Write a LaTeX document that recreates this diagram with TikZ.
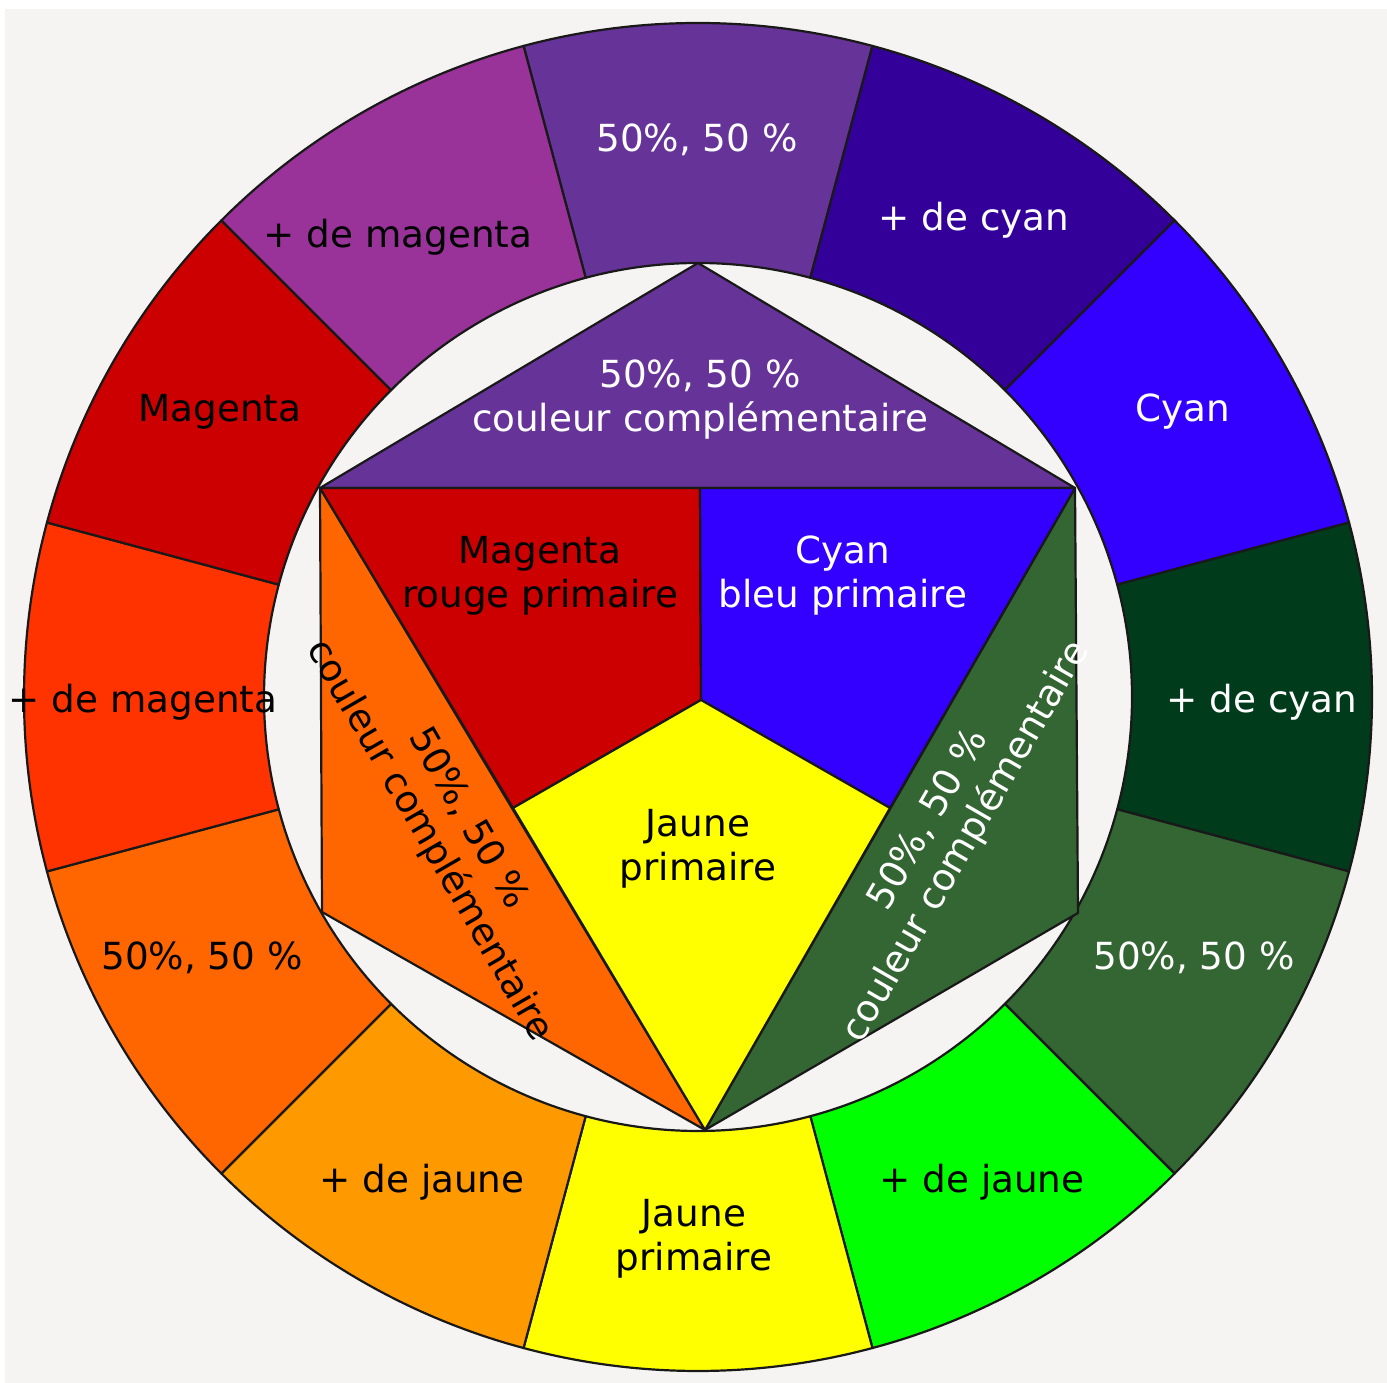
\documentclass[tikz,border=0pt]{standalone}
\usepackage{fontspec}
\setmainfont{DejaVu Sans}
\definecolor{bgc}{HTML}{F5F4F2}
\definecolor{cPurple}{HTML}{663399}
\definecolor{cIndigo}{HTML}{330099}
\definecolor{cBlue}{HTML}{3300FF}
\definecolor{cDarkGreen}{HTML}{003C1B}
\definecolor{cGreen}{HTML}{336633}
\definecolor{cLime}{HTML}{00FF00}
\definecolor{cYellow}{HTML}{FFFF00}
\definecolor{cAmber}{HTML}{FF9900}
\definecolor{cOrange}{HTML}{FF6600}
\definecolor{cRedOrange}{HTML}{FF3300}
\definecolor{cRed}{HTML}{CC0000}
\definecolor{cViolet}{HTML}{993399}
\begin{document}
\begin{tikzpicture}[x=1pt,y=1pt,
  seg/.style={draw=black!90, line width=2.2pt, line join=round},
  lbl/.style={font=\fontsize{37.3}{44}\selectfont, align=center, inner sep=0pt},
  wl/.style={lbl, text=white},
  bl/.style={lbl, text=black}]
\useasboundingbox (0,0) rectangle (1387,1383);
\fill[white] (0,0) rectangle (1387,1383);
\fill[bgc] (5,0) rectangle (1387,1374);
\begin{scope}[shift={(698,686)}]
  % outer ring
  \foreach \a/\c in {90/cPurple,60/cIndigo,30/cBlue,0/cDarkGreen,-30/cGreen,-60/cLime,
                     -90/cYellow,-120/cAmber,-150/cOrange,180/cRedOrange,150/cRed,120/cViolet}
  {
    \pgfmathsetmacro{\s}{\a-15}
    \pgfmathsetmacro{\e}{\a+15}
    \filldraw[seg, fill=\c] (\s:434) arc[start angle=\s, end angle=\e, radius=434]
      -- (\e:674) arc[start angle=\e, end angle=\s, radius=674] -- cycle;
  }
  % inner figure points
  \coordinate (T)  at (0,434);
  \coordinate (UL) at (-378,209);
  \coordinate (UR) at (377,209);
  \coordinate (LL) at (-376,-215);
  \coordinate (LR) at (380,-216);
  \coordinate (B)  at (7,-433);
  \coordinate (M)  at (3,-3);
  \coordinate (MT) at (2,209);
  \coordinate (ML) at (-185,-111);
  \coordinate (MR) at (192,-111);
  \filldraw[seg, fill=cPurple] (UL) -- (T) -- (UR) -- cycle;
  \filldraw[seg, fill=cOrange] (UL) -- (B) -- (LL) -- cycle;
  \filldraw[seg, fill=cGreen] (UR) -- (LR) -- (B) -- cycle;
  \filldraw[seg, fill=cRed] (UL) -- (MT) -- (M) -- (ML) -- cycle;
  \filldraw[seg, fill=cBlue] (MT) -- (UR) -- (MR) -- (M) -- cycle;
  \filldraw[seg, fill=cYellow] (M) -- (MR) -- (B) -- (ML) -- cycle;
  % ring labels
  \node[wl] (r90)  at (-1,557)   {50\%, 50 \%};
  \node[wl] (r60)  at (276,477)  {+ de cyan};
  \node[wl] (r30)  at (485,285)  {Cyan};
  \node[wl] (r0)   at (564,-5)   {+ de cyan};
  \node[wl] (rm30) at (496,-261) {50\%, 50 \%};
  \node[bl] (rm60) at (284,-485) {+ de jaune};
  \node[bl] (rm90) at (-4,-542)  {Jaune\\primaire};
  \node[bl] (rm120) at (-276,-485) {+ de jaune};
  \node[bl] (rm150) at (-496,-261) {50\%, 50 \%};
  \node[bl] (r180) at (-555,-5)  {+ de magenta};
  \node[bl] (r150) at (-478,285) {Magenta};
  \node[bl] (r120) at (-300,460) {+ de magenta};
  % inner labels
  \node[wl] (itop) at (2,297) {50\%, 50 \%\\couleur complémentaire};
  \node[bl] (ired) at (-158,121) {Magenta\\rouge primaire};
  \node[wl] (iblue) at (145,121) {Cyan\\bleu primaire};
  \node[bl] (iyel) at (0,-152) {Jaune\\primaire};
  \node[bl, rotate=-60] (ileft) at (-250,-133) {50\%, 50 \%\\couleur complémentaire};
  \node[wl, rotate=60] (iright) at (250,-134) {50\%, 50 \%\\couleur complémentaire};
\end{scope}
\end{tikzpicture}
\end{document}
